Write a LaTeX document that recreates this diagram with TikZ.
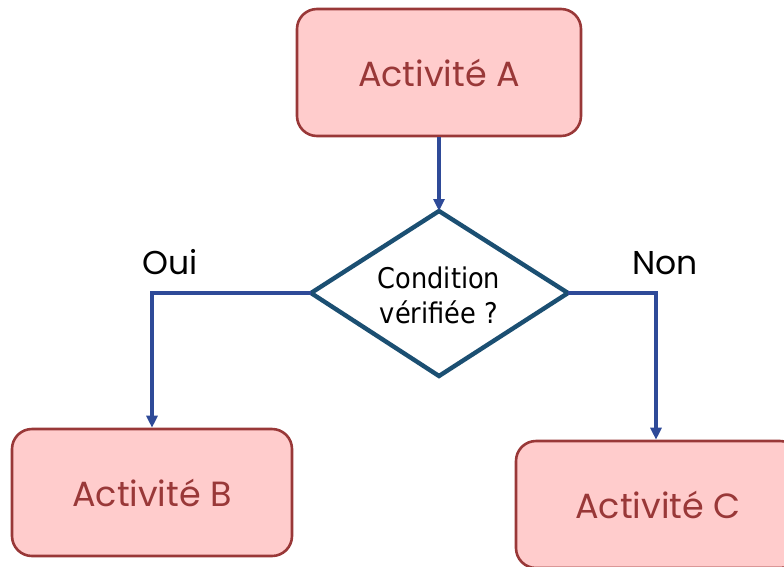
\documentclass[tikz,border=0pt]{standalone}
\usepackage{fontspec}
\setmainfont{Poppins}
\newfontfamily\condfont{DejaVu Sans Condensed}
\usetikzlibrary{arrows.meta}
\definecolor{boxfill}{HTML}{FFCCCC}
\definecolor{boxline}{HTML}{993838}
\definecolor{arrowblue}{HTML}{2E4A98}
\definecolor{diamline}{HTML}{1B4F72}
\tikzset{
  actbox/.style={draw=boxline, fill=boxfill, line width=2.6pt, rounded corners=20pt,
    text=boxline, font=\fontsize{35}{40}\selectfont, inner sep=0pt},
  conn/.style={draw=arrowblue, line width=3.4pt, -{Triangle[length=12pt,width=11pt]}},
  lbl/.style={font=\fontsize{33}{38}\selectfont, text=black, inner sep=0pt, anchor=base}
}
\begin{document}
\begin{tikzpicture}[x=1pt,y=-1pt]
\useasboundingbox (0,0) rectangle (784,566);
\node[actbox, minimum width=284pt, minimum height=127pt] (A) at (439,72.5) {Activité A};
\node[actbox, minimum width=280pt, minimum height=127pt] (B) at (152,492.5) {Activité B};
\node[actbox, minimum width=284pt, minimum height=127pt] (C) at (658,504.5) {Activité C};
\coordinate (dt) at (439,211);
\coordinate (db) at (439,376);
\coordinate (dl) at (311,293);
\coordinate (dr) at (568,293);
\draw[diamline, line width=4.4pt, fill=white, line join=miter] (dt) -- (dr) -- (db) -- (dl) -- cycle;
\node[align=center, font=\condfont\fontsize{28.5}{35}\selectfont, inner sep=0pt] (D) at (439,295) {Condition\\vérifiée ?};
\draw[conn] (A.south) -- (dt);
\draw[conn] (dl) -| (B.north);
\draw[conn] (dr) -| ([xshift=-2pt]C.north);
\node[lbl] (oui) at (170,274) {Oui};
\node[lbl] (non) at (665,274) {Non};
\end{tikzpicture}
\end{document}
